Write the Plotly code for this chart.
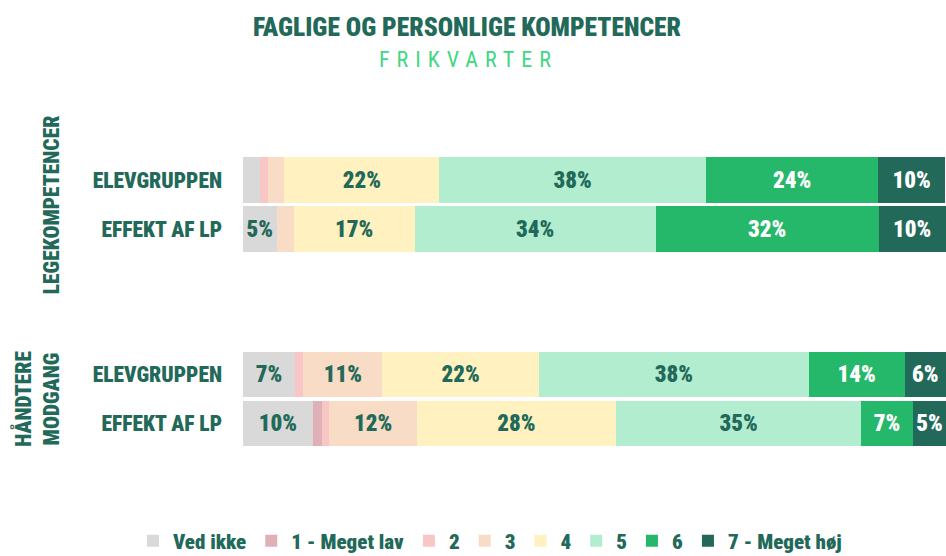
import plotly.graph_objects as go
from plotly.subplots import make_subplots

# Response categories (stack order left to right) and their colours
levels = ["Ved ikke", "1 - Meget lav", "2", "3", "4", "5", "6", "7 - Meget høj"]
colors = ["#d9d9d9", "#e0b0b9", "#f7c6c5", "#f8dcc6", "#fff2c0", "#b3edd0", "#26b86a", "#22695a"]
label_colors = ["#22695a"] * 6 + ["#ffffff", "#ffffff"]

rows = ["ELEVGRUPPEN", "EFFEKT AF LP"]
groups = ["LEGEKOMPETENCER", "HÅNDTERE<br>MODGANG"]

# Percentages per level, for ELEVGRUPPEN / EFFEKT AF LP
legekompetencer = {
    "Ved ikke": [2.4, 4.8],
    "1 - Meget lav": [0.0, 0.0],
    "2": [1.2, 0.0],
    "3": [2.3, 2.4],
    "4": [22.0, 17.2],
    "5": [38.0, 34.3],
    "6": [24.4, 31.7],
    "7 - Meget høj": [9.6, 9.6],
}
modgang = {
    "Ved ikke": [7.4, 9.9],
    "1 - Meget lav": [0.0, 1.3],
    "2": [1.2, 1.1],
    "3": [11.2, 12.4],
    "4": [22.3, 28.4],
    "5": [38.4, 34.8],
    "6": [13.6, 7.4],
    "7 - Meget høj": [5.9, 4.7],
}

DARK = "#22695a"
FONT = "Roboto, sans-serif"
HEAVY = 900
W, H = 946, 556


def cond(s, extra=""):
    """Wrap text in a condensed-width span."""
    return f'<span style="font-stretch:75%;{extra}">{s}</span>'


def px_x(x):
    return x / W


def px_y(y):
    return 1 - y / H


fig = make_subplots(rows=2, cols=1, shared_xaxes=True)

for r, data in enumerate([legekompetencer, modgang], start=1):
    for i, lvl in enumerate(levels):
        vals = data[lvl]
        txt = [cond(f"{v:.0f}%") if v >= 4 else "" for v in vals]
        fig.add_trace(
            go.Bar(
                y=rows, x=vals, orientation="h", name=cond(lvl),
                marker=dict(color=colors[i], line=dict(width=0)),
                text=txt, textposition="inside", insidetextanchor="middle",
                textangle=0,
                textfont=dict(family=FONT, size=23, color=label_colors[i], weight=HEAVY),
                showlegend=(r == 1), legendgroup=lvl,
                hoverinfo="skip",
            ),
            row=r, col=1,
        )

fig.update_layout(
    width=W, height=H,
    barmode="stack", bargap=0.08,
    plot_bgcolor="white", paper_bgcolor="white",
    margin=dict(l=0, r=0, t=0, b=0, autoexpand=False),
    font=dict(family=FONT, color=DARK),
    uniformtext=dict(minsize=23, mode="show"),
    legend=dict(
        orientation="h", xref="paper", yref="paper",
        x=px_x(490), xanchor="center", y=px_y(541), yanchor="middle",
        font=dict(family=FONT, size=21, color=DARK, weight=HEAVY),
        itemwidth=30, traceorder="normal",
        bgcolor="rgba(0,0,0,0)",
    ),
)

fig.update_xaxes(range=[0, 100], visible=False, domain=[px_x(243), 1])
fig.update_yaxes(
    autorange="reversed", showgrid=False, zeroline=False, showline=False,
    ticks="", ticklabelstandoff=20,
    tickvals=rows, ticktext=[cond(r) for r in rows],
    tickfont=dict(family=FONT, size=21.5, color=DARK, weight=HEAVY),
)
fig.update_layout(
    yaxis=dict(domain=[px_y(253.5), px_y(155.5)]),
    yaxis2=dict(domain=[px_y(448), px_y(350)]),
)

# Title and subtitle
fig.add_annotation(
    text=cond("FAGLIGE OG PERSONLIGE KOMPETENCER"), xref="paper", yref="paper",
    x=px_x(467), y=px_y(26.5), xanchor="center", yanchor="middle", showarrow=False,
    font=dict(family=FONT, size=25.5, color=DARK, weight=HEAVY),
)
fig.add_annotation(
    text=cond("FRIKVARTER", "letter-spacing:7px"), xref="paper", yref="paper",
    x=px_x(468.5), y=px_y(59.3), xanchor="center", yanchor="middle", showarrow=False,
    font=dict(family=FONT, size=22, color="#3fd684"),
)

# Group labels to the left of each block of bars
for g, xc, yc in zip(groups, [51.7, 36.3], [204.5, 398.5]):
    fig.add_annotation(
        text=cond(g), xref="paper", yref="paper",
        x=px_x(xc), y=px_y(yc), xanchor="center", yanchor="middle",
        textangle=-90, showarrow=False,
        font=dict(family=FONT, size=21.5, color=DARK, weight=HEAVY),
    )

fig.write_html("out.html")
